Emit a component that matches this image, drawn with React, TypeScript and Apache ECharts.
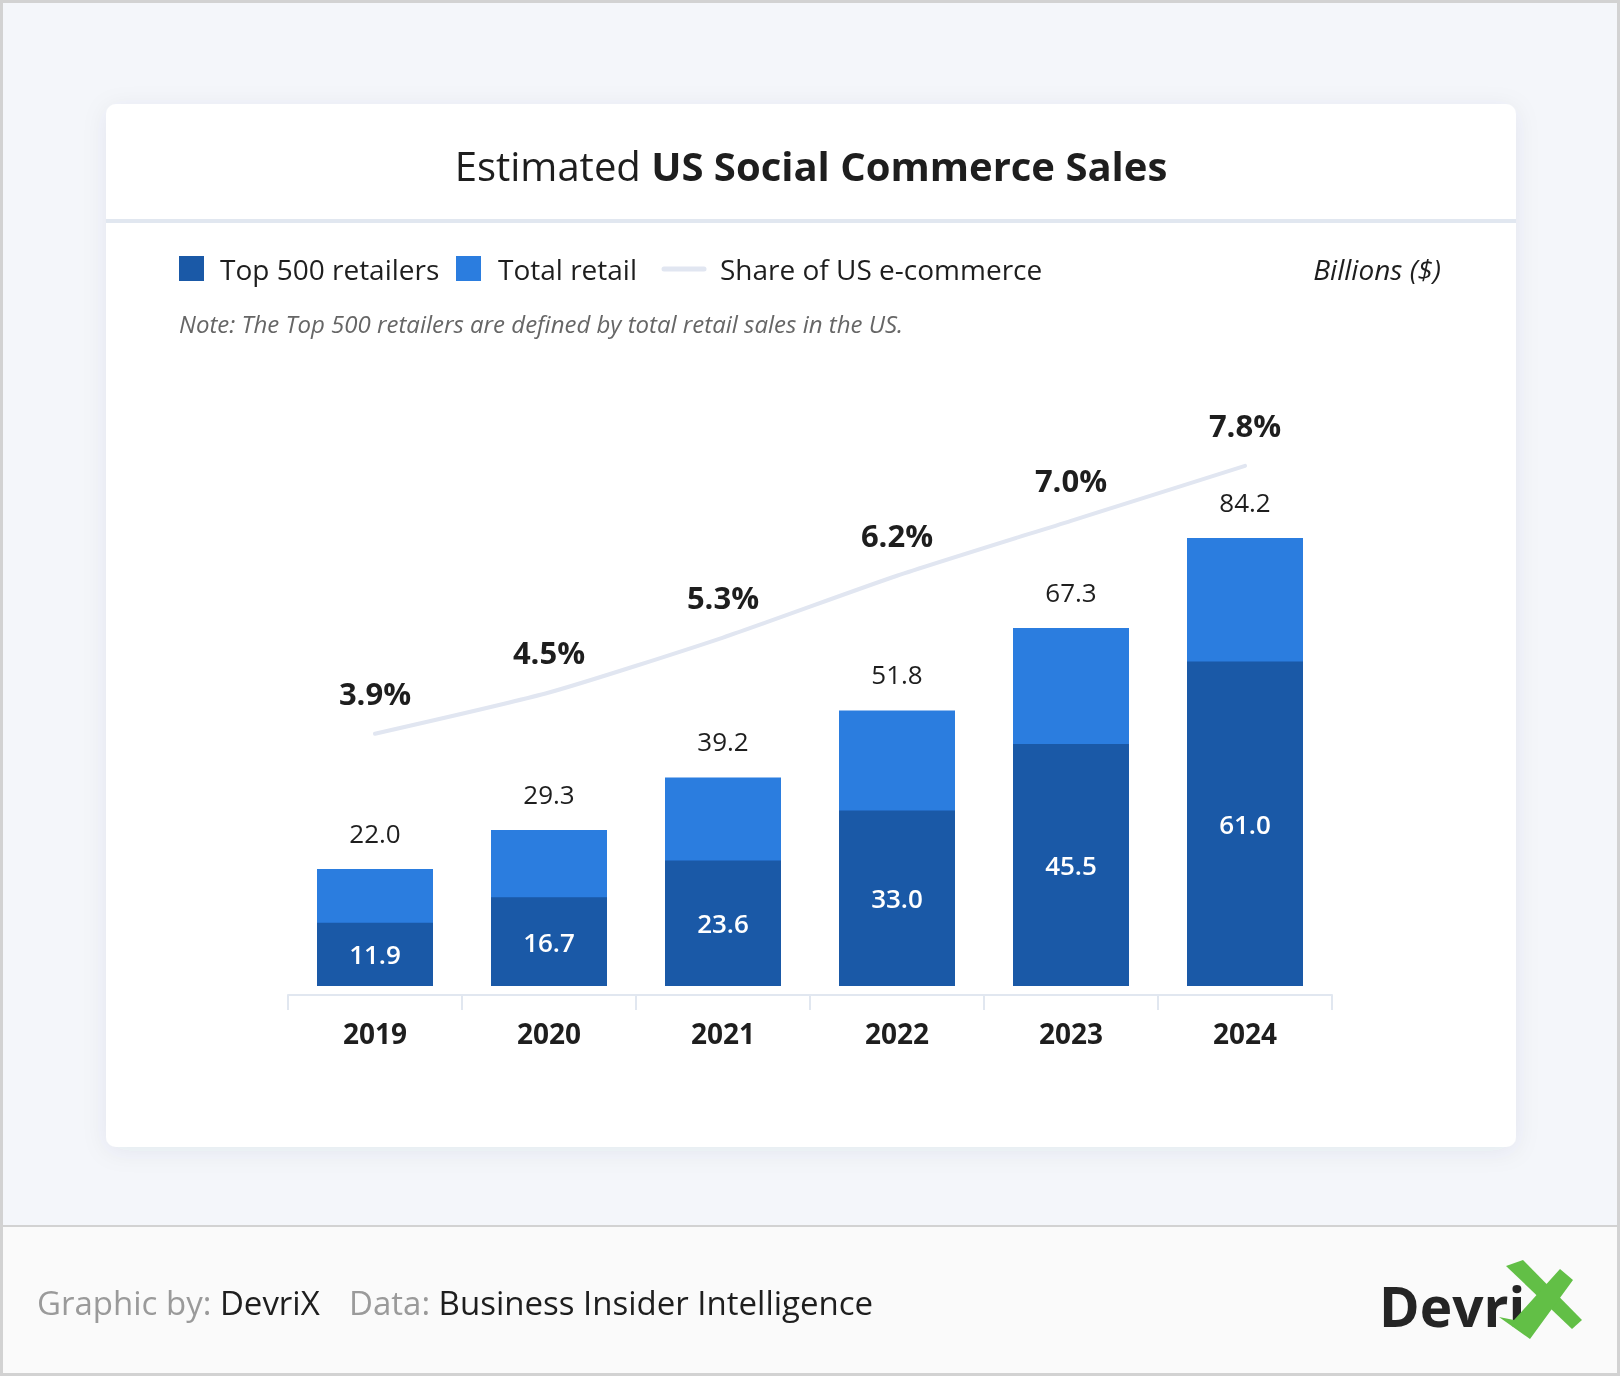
import React, { useEffect, useRef } from "react";
import * as echarts from "echarts";

const years = ["2019", "2020", "2021", "2022", "2023", "2024"];
const totalRetail = [22.0, 29.3, 39.2, 51.8, 67.3, 84.2];
const top500Retailers = [11.9, 16.7, 23.6, 33.0, 45.5, 61.0];
const shareOfEcommerce = [3.9, 4.5, 5.3, 6.2, 7.0, 7.8];

const FONT = "'Open Sans', 'Noto Sans', sans-serif";
const DARK = "#1a59a7";
const LIGHT = "#2b7ddf";
const LINE = "#e1e6f1";
const INK = "#1e1e1e";

function txt(x: number, y: number, text: string, opts: any = {}) {
  const align = opts.align || "left";
  return {
    type: "text",
    x,
    y,
    z: 5,
    style: {
      text,
      fontFamily: FONT,
      fontSize: opts.fontSize || 28,
      fontWeight: opts.fontWeight || 400,
      fontStyle: opts.fontStyle || "normal",
      fill: opts.fill || INK,
      align,
      textAlign: align,
      verticalAlign: "middle",
      textVerticalAlign: "middle",
      rich: opts.rich,
    },
  };
}

export default function App() {
  const ref = useRef<HTMLDivElement>(null);

  useEffect(() => {
    if (!ref.current) return;
    const chart = echarts.init(ref.current, null, { renderer: "svg" });

    const footRich = {
      g: { fontFamily: FONT, fontSize: 33, fill: "#9a9a9a", color: "#9a9a9a" },
      d: { fontFamily: FONT, fontSize: 33, fill: "#1e1e1e", color: "#1e1e1e" },
    };

    const graphic: any[] = [
      // page background
      { type: "rect", z: -20, shape: { x: 0, y: 0, width: 1620, height: 1226 }, style: { fill: "#f4f6fa" } },
      { type: "rect", z: -20, shape: { x: 0, y: 1226, width: 1620, height: 150 }, style: { fill: "#fafafa" } },
      { type: "line", z: -19, shape: { x1: 0, y1: 1226, x2: 1620, y2: 1226 }, style: { stroke: "#d2d2d2", lineWidth: 2 } },
      { type: "rect", z: -19, shape: { x: 1.5, y: 1.5, width: 1617, height: 1373 }, style: { fill: "none", stroke: "#d2d2d2", lineWidth: 3 } },
      // card
      {
        type: "rect",
        z: -18,
        shape: { x: 106, y: 104, width: 1410, height: 1043, r: 10 },
        style: { fill: "#ffffff", shadowBlur: 24, shadowColor: "rgba(30,50,90,0.07)", shadowOffsetY: 4 },
      },
      { type: "rect", z: -17, shape: { x: 106, y: 219, width: 1410, height: 4 }, style: { fill: "#e1e7f0" } },
      // title
      txt(811, 165, "{a|Estimated }{b|US Social Commerce Sales}", {
        align: "center",
        rich: {
          a: { fontFamily: FONT, fontSize: 40, fontWeight: 400, fill: INK, color: INK },
          b: { fontFamily: FONT, fontSize: 40, fontWeight: 700, fill: INK, color: INK },
        },
      }),
      // legend
      { type: "rect", z: 5, shape: { x: 179, y: 256, width: 25, height: 25 }, style: { fill: DARK } },
      txt(220, 269, "Top 500 retailers", { fontSize: 28 }),
      { type: "rect", z: 5, shape: { x: 456, y: 256, width: 25, height: 25 }, style: { fill: LIGHT } },
      txt(498, 269, "Total retail", { fontSize: 28 }),
      { type: "line", z: 5, shape: { x1: 664, y1: 269, x2: 704, y2: 269 }, style: { stroke: LINE, lineWidth: 5, lineCap: "round" } },
      txt(720, 269, "Share of US e-commerce", { fontSize: 28 }),
      txt(1441, 269, "Billions ($)", { fontSize: 28, fontStyle: "italic", align: "right" }),
      txt(179, 323, "Note: The Top 500 retailers are defined by total retail sales in the US.", {
        fontSize: 24,
        fontStyle: "italic",
        fill: "#666666",
      }),
      // footer
      txt(37, 1302, "{g|Graphic by: }{d|DevriX}", { rich: footRich }),
      txt(349, 1302, "{g|Data: }{d|Business Insider Intelligence}", { rich: footRich }),
      // logo
      txt(1379, 1305, "Devri", { fontSize: 55, fontWeight: 700, fill: "#252525" }),
      {
        type: "polygon",
        z: 6,
        shape: { points: [[1506, 1266], [1523, 1260], [1582, 1320], [1572, 1329]] },
        style: { fill: "#62bf46" },
      },
      {
        type: "polygon",
        z: 6,
        shape: { points: [[1560, 1269], [1573, 1280], [1530, 1339], [1499, 1317], [1514, 1320]] },
        style: { fill: "#62bf46" },
      },
    ];

    const option: any = {
      animation: false,
      textStyle: { fontFamily: FONT },
      graphic,
      grid: { left: 288, right: 288, top: 454, bottom: 390, containLabel: false },
      xAxis: {
        type: "category",
        data: years,
        offset: 9,
        z: 10,
        axisLine: { show: true, onZero: false, lineStyle: { color: "#e1e7f0", width: 2 } },
        axisTick: { show: true, length: 15, lineStyle: { color: "#e1e7f0", width: 2 } },
        axisLabel: { margin: 24, fontSize: 28, fontWeight: 700, color: INK, fontFamily: FONT },
        splitLine: { show: false },
      },
      yAxis: [
        { type: "value", min: 0, max: 100, show: false, splitLine: { show: false } },
        { type: "value", min: 0.226, max: 7.973, show: false, splitLine: { show: false } },
      ],
      series: [
        {
          name: "Total retail",
          type: "bar",
          data: totalRetail,
          barWidth: 116,
          z: 3,
          itemStyle: { color: LIGHT },
          label: {
            show: true,
            position: "top",
            distance: 23,
            fontSize: 26,
            fontFamily: FONT,
            color: INK,
            formatter: (p: any) => Number(p.value).toFixed(1),
          },
        },
        {
          name: "Top 500 retailers",
          type: "bar",
          data: top500Retailers,
          barWidth: 116,
          barGap: "-100%",
          z: 4,
          itemStyle: { color: DARK },
          label: {
            show: true,
            position: "inside",
            fontSize: 26,
            fontWeight: 600,
            fontFamily: FONT,
            color: "#ffffff",
            formatter: (p: any) => Number(p.value).toFixed(1),
          },
        },
        {
          name: "Share of US e-commerce",
          type: "line",
          yAxisIndex: 1,
          data: shareOfEcommerce,
          smooth: 0.2,
          symbol: "circle",
          symbolSize: 2,
          z: 5,
          itemStyle: { color: LINE },
          lineStyle: { color: LINE, width: 4, cap: "round" },
          label: {
            show: true,
            position: "top",
            distance: 24,
            fontSize: 31,
            fontWeight: 700,
            fontFamily: FONT,
            color: INK,
            formatter: (p: any) => Number(p.value).toFixed(1) + "%",
          },
        },
      ],
    };

    chart.setOption(option);
    return () => chart.dispose();
  }, []);

  return (
    <div
      ref={ref}
      style={{ position: "fixed", left: 0, top: 0, width: 1620, height: 1376 }}
    />
  );
}
